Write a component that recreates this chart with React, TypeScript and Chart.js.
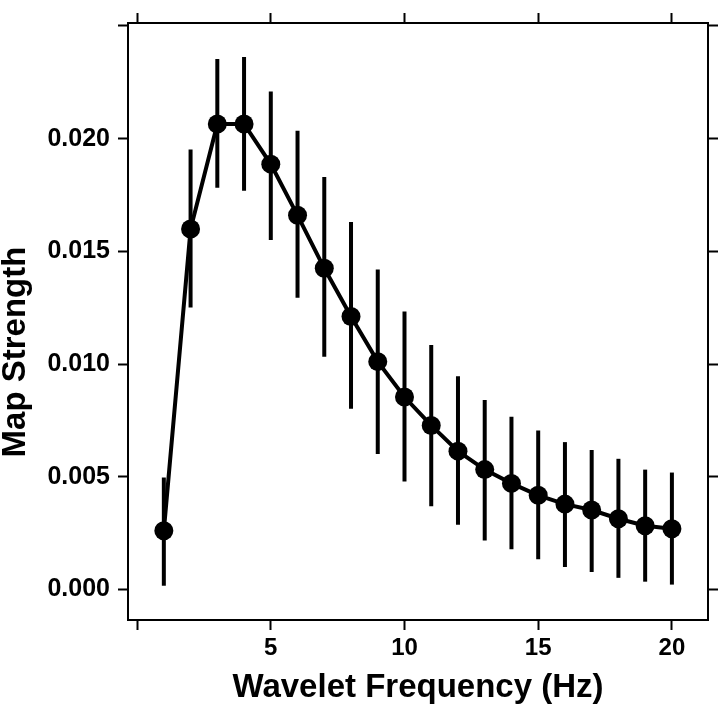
import { useEffect, useRef } from 'react';
import { Chart, registerables } from 'chart.js';

Chart.register(...registerables);

const frequencies = [1, 2, 3, 4, 5, 6, 7, 8, 9, 10, 11, 12, 13, 14, 15, 16, 17, 18, 19, 20];
const strength = [0.00261, 0.01599, 0.02065, 0.02065, 0.01887, 0.0166, 0.01425, 0.01211, 0.01011, 0.00854, 0.00728, 0.00614, 0.00532, 0.00471, 0.00418, 0.00379, 0.00353, 0.00314, 0.00283, 0.0027];
const lowerBound = [0.00017, 0.01251, 0.01782, 0.01769, 0.01551, 0.01294, 0.01033, 0.00802, 0.00601, 0.00479, 0.0037, 0.00288, 0.00218, 0.00179, 0.00135, 0.001, 0.00078, 0.00052, 0.00035, 0.00022];
const upperBound = [0.00497, 0.01952, 0.02353, 0.02362, 0.02209, 0.02035, 0.0183, 0.0163, 0.0142, 0.01233, 0.01085, 0.00946, 0.00841, 0.00767, 0.00706, 0.00654, 0.00619, 0.0058, 0.00532, 0.00519];

const xTickValues = [0, 5, 10, 15, 20];
const xTickLabels = ['', '5', '10', '15', '20'];
const yTickValues = [0, 0.005, 0.01, 0.015, 0.02, 0.025];
const yTickLabels = ['0.000', '0.005', '0.010', '0.015', '0.020', ''];

const xTitle = 'Wavelet Frequency (Hz)';
const yTitle = 'Map Strength';

const FAMILY = '"Liberation Sans", Arial, Helvetica, sans-serif';

export default function App() {
  const canvasRef = useRef<HTMLCanvasElement | null>(null);

  useEffect(() => {
    document.body.style.margin = '0';
    const canvas = canvasRef.current;
    if (!canvas) return;

    const errorBars = {
      id: 'errorBars',
      beforeDatasetsDraw(chart: any) {
        const { ctx } = chart;
        const xs = chart.scales.x;
        const ys = chart.scales.y;
        ctx.save();
        ctx.strokeStyle = '#000';
        ctx.lineWidth = 4;
        ctx.lineCap = 'butt';
        for (let i = 0; i < frequencies.length; i++) {
          const px = xs.getPixelForValue(frequencies[i]);
          ctx.beginPath();
          ctx.moveTo(px, ys.getPixelForValue(lowerBound[i]));
          ctx.lineTo(px, ys.getPixelForValue(upperBound[i]));
          ctx.stroke();
        }
        ctx.restore();
      },
    };

    const yTitlePlugin = {
      id: 'yTitlePlugin',
      afterDraw(chart: any) {
        const { ctx } = chart;
        ctx.save();
        ctx.translate(16, 352);
        ctx.rotate(-Math.PI / 2);
        ctx.fillStyle = '#000';
        ctx.font = `bold 33px ${FAMILY}`;
        ctx.textAlign = 'center';
        ctx.textBaseline = 'middle';
        ctx.fillText(yTitle, 0, 0);
        ctx.restore();
      },
    };

    const grid = {
      drawOnChartArea: false,
      drawTicks: true,
      tickLength: 10,
      tickWidth: 2,
      tickColor: '#000',
    };
    const border = { display: true, color: '#000', width: 2 };
    const setX = (s: any) => {
      s.ticks = xTickValues.map((v) => ({ value: v }));
    };
    const setY = (s: any) => {
      s.ticks = yTickValues.map((v) => ({ value: v }));
    };

    const chart = new Chart(canvas, {
      type: 'line',
      data: {
        datasets: [
          {
            data: frequencies.map((f, i) => ({ x: f, y: strength[i] })),
            borderColor: '#000',
            backgroundColor: '#000',
            borderWidth: 4,
            pointRadius: 9.5,
            pointBackgroundColor: '#000',
            pointBorderWidth: 0,
            tension: 0,
            fill: false,
          },
        ],
      },
      options: {
        animation: false,
        responsive: false,
        devicePixelRatio: 1,
        layout: { padding: 0 },
        plugins: {
          legend: { display: false },
          tooltip: { enabled: false },
        },
        events: [],
        scales: {
          x: {
            type: 'linear',
            position: 'bottom',
            min: -0.34,
            max: 21.35,
            afterBuildTicks: setX,
            afterFit: (s: any) => {
              s.height = 88;
            },
            ticks: {
              autoSkip: false,
              maxRotation: 0,
              padding: 4,
              color: '#000',
              font: { family: FAMILY, size: 24, weight: 'bold' },
              callback: (v: any) => xTickLabels[xTickValues.indexOf(Number(v))] ?? '',
            },
            grid,
            border,
            title: {
              display: true,
              text: xTitle,
              color: '#000',
              font: { family: FAMILY, size: 33, weight: 'bold' },
              padding: { top: 0, bottom: 0 },
            },
          },
          x2: {
            type: 'linear',
            position: 'top',
            min: -0.34,
            max: 21.35,
            afterBuildTicks: setX,
            afterFit: (s: any) => {
              s.height = 12;
            },
            ticks: { display: false },
            grid,
            border,
          },
          y: {
            type: 'linear',
            position: 'left',
            min: -0.00135,
            max: 0.02513,
            afterBuildTicks: setY,
            afterFit: (s: any) => {
              s.width = 128;
            },
            ticks: {
              autoSkip: false,
              padding: 8,
              color: '#000',
              font: { family: FAMILY, size: 25, weight: 'bold' },
              callback: (v: any) => {
                const idx = yTickValues.findIndex((t) => Math.abs(t - Number(v)) < 1e-9);
                return idx >= 0 ? yTickLabels[idx] : '';
              },
            },
            grid,
            border,
          },
          y2: {
            type: 'linear',
            position: 'right',
            min: -0.00135,
            max: 0.02513,
            afterBuildTicks: setY,
            afterFit: (s: any) => {
              s.width = 12;
            },
            ticks: { display: false },
            grid,
            border,
          },
        },
      },
      plugins: [errorBars, yTitlePlugin],
    });

    return () => {
      chart.destroy();
    };
  }, []);

  return (
    <div style={{ width: 720, height: 708, background: '#fff' }}>
      <canvas ref={canvasRef} width={720} height={708} style={{ display: 'block', width: 720, height: 708 }} />
    </div>
  );
}
